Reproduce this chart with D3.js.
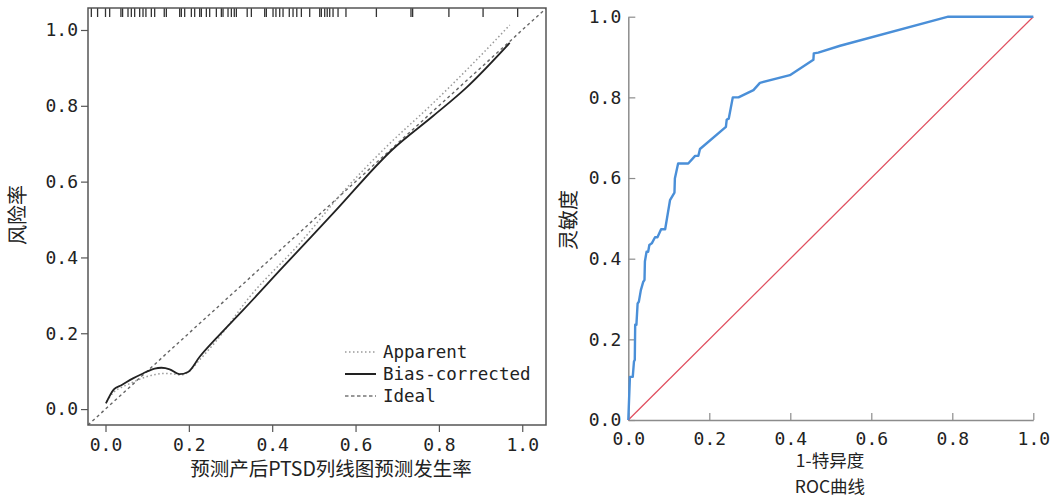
<!DOCTYPE html>
<html><head><meta charset="utf-8">
<script src="https://cdn.jsdelivr.net/npm/d3@7"></script>
<style>
html,body{margin:0;padding:0;background:#fff;}
svg{display:block;}
.num{font-family:"DejaVu Sans Mono","Liberation Mono",monospace;}
.cjk{font-family:"Noto Sans CJK SC","Noto Sans",sans-serif;}
</style></head>
<body>
<svg id="chart" width="1055" height="498"></svg>
<script>
// ---------- Data ----------
const tickValues = [0, 0.2, 0.4, 0.6, 0.8, 1.0];
const tickLabels = ["0.0", "0.2", "0.4", "0.6", "0.8", "1.0"];

// Calibration curve (left panel)
const apparentX = [0.003,0.02,0.04,0.06,0.08,0.10,0.12,0.14,0.16,0.18,0.198,0.226,0.266,0.346,0.466,0.57,0.674,0.786,0.906,0.97];
const apparentY = [0.02,0.045,0.058,0.068,0.078,0.086,0.091,0.094,0.093,0.090,0.097,0.13,0.18,0.296,0.437,0.573,0.692,0.807,0.939,1.013];
const biasX = [0.001,0.02,0.038,0.066,0.09,0.118,0.134,0.154,0.177,0.198,0.226,0.266,0.33,0.426,0.546,0.69,0.786,0.866,0.97];
const biasY = [0.015,0.052,0.063,0.081,0.094,0.107,0.109,0.105,0.092,0.098,0.138,0.187,0.261,0.375,0.516,0.686,0.773,0.848,0.966];
const rugValues = [-0.034,-0.019,0.000,0.010,0.037,0.041,0.054,0.062,0.070,0.082,0.090,0.097,0.110,0.118,0.141,0.146,0.178,0.182,0.190,0.206,0.214,0.226,0.230,0.242,0.250,0.266,0.278,0.282,0.294,0.302,0.309,0.314,0.340,0.350,0.382,0.386,0.402,0.409,0.418,0.426,0.441,0.450,0.459,0.470,0.490,0.514,0.518,0.526,0.532,0.538,0.546,0.558,0.577,0.650,0.733,0.737,0.824,0.906,0.989];
const legendLabels = ["Apparent", "Bias-corrected", "Ideal"];
const leftXTitle = "预测产后PTSD列线图预测发生率";
const leftYTitle = "风险率";

// ROC curve (right panel)
const rocFpr = [0,0.004,0.011,0.014,0.016,0.017,0.02,0.023,0.026,0.031,0.037,0.04,0.041,0.045,0.049,0.052,0.058,0.066,0.072,0.081,0.091,0.103,0.114,0.115,0.123,0.148,0.165,0.173,0.177,0.241,0.243,0.248,0.258,0.272,0.309,0.325,0.399,0.457,0.458,0.469,0.523,0.790,1.0];
const rocTpr = [0,0.107,0.107,0.145,0.149,0.236,0.236,0.289,0.293,0.322,0.343,0.347,0.393,0.417,0.417,0.434,0.438,0.453,0.453,0.473,0.473,0.545,0.564,0.599,0.636,0.636,0.655,0.655,0.672,0.727,0.745,0.747,0.8,0.8,0.818,0.836,0.855,0.893,0.909,0.911,0.928,1.0,1.0];
const refLine = [0, 1];
const rightXTitle = "1-特异度";
const rightSubTitle = "ROC曲线";
const rightYTitle = "灵敏度";

// ---------- Drawing ----------
const svg = d3.select("#chart");
const zip = (xs, ys) => xs.map((x, i) => [x, ys[i]]);

// Left panel
const lx = d3.scaleLinear().domain([-0.042, 1.057]).range([88, 546]);
const ly = d3.scaleLinear().domain([-0.042, 1.058]).range([425, 8]);
const L = svg.append("g");
const frameColor = "#555";

const lyAxis = L.append("g").attr("transform", `translate(${lx.range()[0]},0)`)
  .call(d3.axisLeft(ly).tickValues(tickValues).tickFormat((d, i) => tickLabels[i]).tickSize(7).tickPadding(3));
const lxAxis = L.append("g").attr("transform", `translate(0,${ly.range()[0]})`)
  .call(d3.axisBottom(lx).tickValues(tickValues).tickFormat((d, i) => tickLabels[i]).tickSize(7).tickPadding(6));
[lyAxis, lxAxis].forEach(a => {
  a.select(".domain").remove();
  a.selectAll(".tick line").attr("stroke", frameColor).attr("stroke-width", 1.2);
  a.selectAll(".tick text").attr("class", "num").attr("font-size", 18).attr("fill", "#222");
});

svg.append("clipPath").attr("id", "lclip").append("rect")
  .attr("x", lx.range()[0]).attr("y", ly.range()[1])
  .attr("width", lx.range()[1] - lx.range()[0]).attr("height", ly.range()[0] - ly.range()[1]);
const plot = L.append("g").attr("clip-path", "url(#lclip)");

// Ideal line
plot.append("path")
  .datum(zip(lx.domain(), lx.domain()))
  .attr("d", d3.line().x(d => lx(d[0])).y(d => ly(d[1])))
  .attr("fill", "none").attr("stroke", "#666").attr("stroke-width", 1.4).attr("stroke-dasharray", "3,3");
// Apparent
plot.append("path")
  .datum(zip(apparentX, apparentY))
  .attr("d", d3.line().x(d => lx(d[0])).y(d => ly(d[1])).curve(d3.curveMonotoneX))
  .attr("fill", "none").attr("stroke", "#9a9a9a").attr("stroke-width", 1.5).attr("stroke-dasharray", "1.5,2.5");
// Bias-corrected
plot.append("path")
  .datum(zip(biasX, biasY))
  .attr("d", d3.line().x(d => lx(d[0])).y(d => ly(d[1])).curve(d3.curveMonotoneX))
  .attr("fill", "none").attr("stroke", "#222").attr("stroke-width", 1.8);

// Rug
plot.selectAll("line.rug").data(rugValues).enter().append("line")
  .attr("class", "rug")
  .attr("x1", d => lx(d)).attr("x2", d => lx(d))
  .attr("y1", ly.range()[1]).attr("y2", ly.range()[1] + 9)
  .attr("stroke", "#333").attr("stroke-width", 1.3);

// Frame
L.append("rect")
  .attr("x", lx.range()[0]).attr("y", ly.range()[1])
  .attr("width", lx.range()[1] - lx.range()[0]).attr("height", ly.range()[0] - ly.range()[1])
  .attr("fill", "none").attr("stroke", frameColor).attr("stroke-width", 1.5);

// Legend
const legStyles = [
  {stroke: "#9a9a9a", dash: "1.5,2.5", w: 1.5},
  {stroke: "#222", dash: null, w: 2},
  {stroke: "#777", dash: "3.5,2.5", w: 1.5}
];
const leg = L.append("g");
legendLabels.forEach((lab, i) => {
  const yy = 352 + i * 22;
  leg.append("line").attr("x1", 345).attr("x2", 376).attr("y1", yy).attr("y2", yy)
    .attr("stroke", legStyles[i].stroke).attr("stroke-width", legStyles[i].w)
    .attr("stroke-dasharray", legStyles[i].dash);
  leg.append("text").attr("class", "num").attr("x", 383).attr("y", yy + 6)
    .attr("font-size", 17.5).attr("fill", "#222").text(lab);
});

// Titles
L.append("text").attr("class", "cjk").attr("x", 331).attr("y", 476)
  .attr("text-anchor", "middle").attr("font-size", 19.5).attr("fill", "#222").text(leftXTitle);
L.append("text").attr("class", "cjk").attr("transform", "translate(25,215) rotate(-90)")
  .attr("text-anchor", "middle").attr("font-size", 20).attr("fill", "#222").text(leftYTitle);

// Right panel
const rx = d3.scaleLinear().domain([0, 1]).range([628.3, 1033.3]);
const ry = d3.scaleLinear().domain([0, 1]).range([420, 16.7]);
const R = svg.append("g");
const axisColor = "#8c8c8c";
const ryAxis = R.append("g").attr("transform", `translate(${rx(0)},0)`)
  .call(d3.axisLeft(ry).tickValues(tickValues).tickFormat((d, i) => tickLabels[i]).tickSizeInner(-7).tickSizeOuter(0).tickPadding(7));
const rxAxis = R.append("g").attr("transform", `translate(0,${ry(0)})`)
  .call(d3.axisBottom(rx).tickValues(tickValues).tickFormat((d, i) => tickLabels[i]).tickSizeInner(-7).tickSizeOuter(0).tickPadding(12));
[ryAxis, rxAxis].forEach(a => {
  a.select(".domain").attr("stroke", axisColor).attr("stroke-width", 1.5);
  a.selectAll(".tick line").attr("stroke", axisColor).attr("stroke-width", 1.2);
  a.selectAll(".tick text").attr("class", "num").attr("font-size", 18).attr("fill", "#222");
});

// Reference diagonal
R.append("path").datum(zip(refLine, refLine))
  .attr("d", d3.line().x(d => rx(d[0])).y(d => ry(d[1])))
  .attr("fill", "none").attr("stroke", "#e05060").attr("stroke-width", 1.3);
// ROC curve
R.append("path").datum(zip(rocFpr, rocTpr))
  .attr("d", d3.line().x(d => rx(d[0])).y(d => ry(d[1])))
  .attr("fill", "none").attr("stroke", "#4a8fd8").attr("stroke-width", 2.4).attr("stroke-linejoin", "round");

// Right titles
R.append("text").attr("class", "cjk").attr("x", 830).attr("y", 467)
  .attr("text-anchor", "middle").attr("font-size", 17.5).attr("fill", "#222").text(rightXTitle);
R.append("text").attr("class", "cjk").attr("x", 830).attr("y", 493)
  .attr("text-anchor", "middle").attr("font-size", 17.5).attr("fill", "#222").text(rightSubTitle);
R.append("text").attr("class", "cjk").attr("transform", "translate(576,220) rotate(-90)")
  .attr("text-anchor", "middle").attr("font-size", 20).attr("fill", "#222").text(rightYTitle);
</script>
</body></html>
